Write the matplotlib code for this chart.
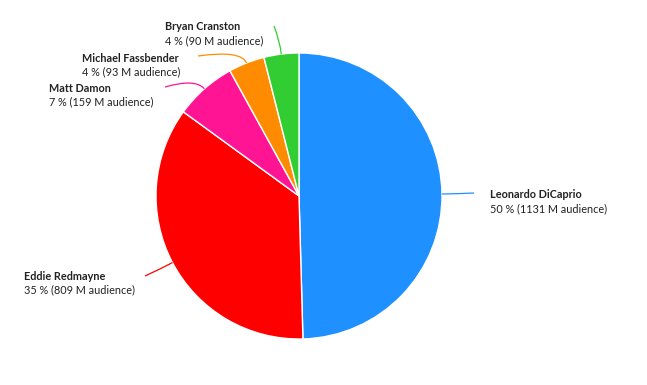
import numpy as np
import matplotlib.pyplot as plt
from matplotlib.path import Path
from matplotlib.patches import PathPatch

names = ["Leonardo DiCaprio", "Eddie Redmayne", "Matt Damon", "Michael Fassbender", "Bryan Cranston"]
audience = [1131, 809, 159, 93, 90]
colors = ["#1E90FF", "#FF0000", "#FF1493", "#FF8C00", "#32CD32"]

# label text anchor (x, y in pixels from top-left) and connector end point
label_pos = [(490, 195), (24, 276), (49, 88), (82, 58), (165, 27)]
line_end = [(474, 193), (145, 276), (165, 87), (198, 56), (274, 26)]

W, H = 647, 385
fig = plt.figure(figsize=(6.47, 3.85), dpi=100)
ax = fig.add_axes([0, 0, 1, 1])

cx, cy, r = 299, H - 196, 143
wedges, _ = ax.pie(audience, colors=colors, startangle=90, counterclock=False,
                   center=(cx, cy), radius=r, frame=True,
                   wedgeprops=dict(edgecolor="white", linewidth=1))
ax.set_xlim(0, W)
ax.set_ylim(0, H)
ax.set_aspect("equal")
ax.axis("off")

total = sum(audience)
for w, name, val, col, (lx, ly), (ex, ey) in zip(wedges, names, audience, colors, label_pos, line_end):
    mid = np.deg2rad((w.theta1 + w.theta2) / 2)
    sx, sy = cx + r * np.cos(mid), cy + r * np.sin(mid)
    qx, qy = cx + (r + 14) * np.cos(mid), cy + (r + 14) * np.sin(mid)
    path = Path([(sx, sy), (qx, qy), (ex, H - ey)], [Path.MOVETO, Path.CURVE3, Path.CURVE3])
    ax.add_patch(PathPatch(path, fill=False, edgecolor=col, linewidth=0.9))
    pct = round(val / total * 100)
    ax.text(lx, H - ly, name, fontsize=7.8, fontweight="bold", va="center", ha="left",
            color="#222222", family="Lato")
    ax.text(lx, H - ly - 14, f"{pct} % ({val} M audience)", fontsize=7.8, va="center", ha="left",
            color="#222222", family="Lato")

fig.savefig("out.png", dpi=100)
